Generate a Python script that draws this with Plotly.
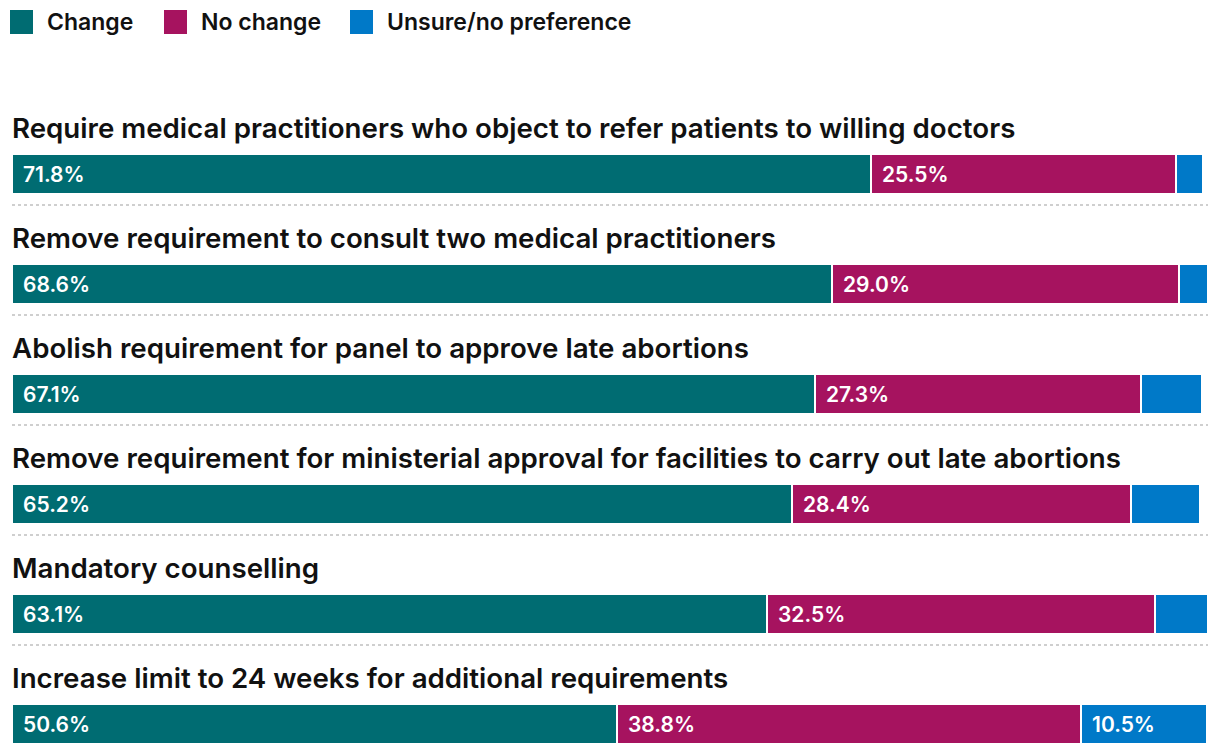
import plotly.graph_objects as go

questions = [
    "Require medical practitioners who object to refer patients to willing doctors",
    "Remove requirement to consult two medical practitioners",
    "Abolish requirement for panel to approve late abortions",
    "Remove requirement for ministerial approval for facilities to carry out late abortions",
    "Mandatory counselling",
    "Increase limit to 24 weeks for additional requirements",
]
change = [71.8, 68.6, 67.1, 65.2, 63.1, 50.6]
no_change = [25.5, 29.0, 27.3, 28.4, 32.5, 38.8]
unsure = [2.3, 2.4, 5.1, 5.7, 4.4, 10.5]

series_names = ["Change", "No change", "Unsure/no preference"]
series_values = [change, no_change, unsure]
colors = ["#006C72", "#A6135F", "#0079C8"]

# page body has an 8px margin; compensate so the plot lands where intended
OFF = 8
W, H = 1220 - OFF, 756 - OFF
ML, MR, MT, MB = 12 - OFF, 12, 64 - OFF, 0
PITCH = 110.0
plot_h = H - MT - MB
plot_w = W - ML - MR
y_max = plot_h / PITCH
rows = [i + 1 for i in range(len(questions))]

FONT = "Inter"

fig = go.Figure()
for name, vals, col in zip(series_names, series_values, colors):
    fig.add_trace(go.Bar(
        x=vals, y=rows, orientation="h", name=name,
        marker=dict(color=col, line=dict(color="white", width=2)),
        width=40 / PITCH, showlegend=False, hoverinfo="x+name",
    ))

annotations = []
shapes = []
for q, r in zip(questions, rows):
    annotations.append(dict(
        x=0, y=r - 0.418, xref="x", yref="y", text=q, showarrow=False,
        xanchor="left", yanchor="middle", xshift=-2,
        font=dict(family=FONT, size=27.7, color="#111111", weight=600),
    ))
for i, r in enumerate(rows):
    base = 0.0
    for vals in series_values:
        v = vals[i]
        if v >= 10:
            annotations.append(dict(
                x=base, y=r, xref="x", yref="y", text=f"{v:.1f}%",
                showarrow=False, xanchor="left", yanchor="middle", xshift=9,
                font=dict(family=FONT, size=21, color="white", weight=600),
            ))
        base += v
for r in rows[:-1]:
    shapes.append(dict(
        type="line", xref="paper", yref="y", x0=0, x1=1,
        y0=r + 0.282, y1=r + 0.282,
        line=dict(color="#CFCFCF", width=2, dash="dot"),
    ))

# custom legend: page x positions of squares
legend_x = [10, 164, 350]
for name, col, lx in zip(series_names, colors, legend_x):
    px0 = (lx - 12) / plot_w
    px1 = (lx + 23 - 12) / plot_w
    py_top = 1 + (64 - 10) / plot_h
    py_bot = 1 + (64 - 34) / plot_h
    shapes.append(dict(type="rect", xref="paper", yref="paper",
                       x0=px0, x1=px1, y0=py_bot, y1=py_top,
                       fillcolor=col, line=dict(width=0)))
    annotations.append(dict(
        x=(lx + 35 - 12) / plot_w, y=1 + (64 - 22) / plot_h,
        xref="paper", yref="paper", text=name, showarrow=False,
        xanchor="left", yanchor="middle",
        font=dict(family=FONT, size=23, color="#111111", weight=600),
    ))

fig.update_layout(
    width=W, height=H, barmode="stack", bargap=0,
    margin=dict(l=ML, r=MR, t=MT, b=MB, pad=0),
    paper_bgcolor="white", plot_bgcolor="white",
    xaxis=dict(range=[0, 100], visible=False, fixedrange=True),
    yaxis=dict(range=[y_max, 0], visible=False, fixedrange=True),
    annotations=annotations, shapes=shapes,
    font=dict(family=FONT),
)

fig.write_html("out.html")
